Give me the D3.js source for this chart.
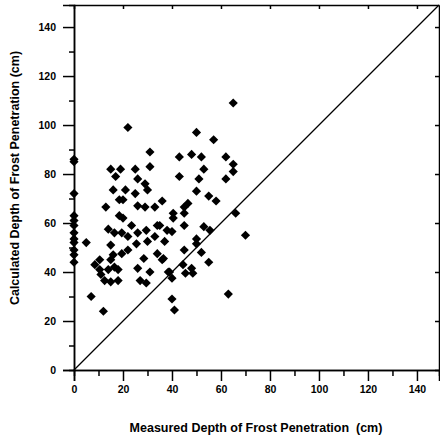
<!DOCTYPE html>
<html>
<head>
  <title>Measured vs Calculated Frost Penetration</title>
  <script src="https://d3js.org/d3.v7.min.js"></script>
  <style>
    body {
      margin: 0;
      background: #fff;
      font-family: Arial, "Liberation Sans", sans-serif;
    }
    .axis path, .axis line {
      stroke: #000;
      stroke-width: 1.5;
    }
    .axis text {
      font-size: 10.5px;
      font-weight: bold;
      fill: #000;
    }
  </style>
</head>
<body>

<div id="chart"></div>

<script>
  // measured depth (cm) and calculated depth (cm), one entry per sample
  const measured = [
    0, 0, 0, 0, 0, 0, 0, 0, 0, 0, 0, 0,
    22, 31, 15, 19, 25, 31, 17, 26, 29, 16, 21, 30, 25, 18.5, 20, 36, 26, 13, 29, 33,
    18.5, 20, 23.5, 34, 14, 16.5, 19.5, 26, 29.5, 33, 22, 30, 5, 15, 25.5, 37, 22, 19.5,
    16, 28.5, 34, 15, 10.5, 8.5, 10.5, 11, 12.5, 14, 16.5, 18, 15, 18, 26, 31, 27, 29.5,
    38.5, 7, 12,
    65, 50, 57, 43, 48, 52, 62, 65, 65, 53, 43, 51, 62, 50, 55, 58, 46.5, 45,
    45, 40.5, 40.5, 45, 38, 40, 35, 53, 55.5, 66, 70, 50, 50, 52, 45, 36, 36.5, 55,
    39, 40, 44.5, 45.5, 48, 48.5, 40, 41, 63
  ];
  const calculated = [
    86, 85, 72, 63, 61, 59, 56, 53.5, 52, 49, 47, 44,
    99, 89, 82, 82, 82, 83, 79, 78, 76, 73.5, 73.5, 73.5, 72, 69.5, 69.5, 69, 67, 66.5, 66.5, 66.5,
    63, 62, 59, 59, 57.5, 56, 56, 56, 57, 54.5, 54.5, 52.5, 52, 51, 51.5, 52.5, 49, 47.5,
    47, 45.5, 47.5, 45, 45, 43, 41, 39, 36.5, 41, 42, 41, 36, 36.5, 41.5, 40, 36.5, 35.5,
    40, 30, 24,
    109, 97, 94, 87, 88, 87, 87, 84, 81, 82, 79, 78, 78, 73, 71, 69, 68, 66.5,
    64, 64, 62, 59, 57, 56.5, 59, 58.5, 57, 64, 55, 53.5, 51.5, 48, 49, 45, 45.5, 44,
    40, 37.5, 43, 39.5, 41.5, 39.5, 29, 24.5, 31
  ];
  const majorTicks = [0, 20, 40, 60, 80, 100, 120, 140];
  const minorTicks = [10, 30, 50, 70, 90, 110, 130];

  const width = 440;
  const height = 439;
  const margin = { top: 5, right: 1, bottom: 69, left: 74 };

  const points = measured.map((m, i) => ({ x: m, y: calculated[i] }));

  const svg = d3.select("#chart")
    .append("svg")
    .attr("width", width)
    .attr("height", height);

  const x = d3.scaleLinear()
    .domain([0, 149])
    .range([margin.left, width - margin.right]);

  const y = d3.scaleLinear()
    .domain([0, 149])
    .range([height - margin.bottom, margin.top]);

  // bottom axis: major labelled ticks and minor ticks, both pointing out
  svg.append("g")
    .attr("class", "axis")
    .attr("transform", `translate(0,${y(0)})`)
    .call(d3.axisBottom(x).tickValues(majorTicks).tickSize(11).tickPadding(5).tickFormat(d3.format("d")));
  svg.append("g")
    .attr("class", "axis")
    .attr("transform", `translate(0,${y(0)})`)
    .call(d3.axisBottom(x).tickValues(minorTicks).tickSize(6).tickFormat(""));

  // left axis
  svg.append("g")
    .attr("class", "axis")
    .attr("transform", `translate(${x(0)},0)`)
    .call(d3.axisLeft(y).tickValues(majorTicks).tickSize(11).tickPadding(7).tickFormat(d3.format("d")));
  svg.append("g")
    .attr("class", "axis")
    .attr("transform", `translate(${x(0)},0)`)
    .call(d3.axisLeft(y).tickValues(minorTicks).tickSize(5).tickFormat(""));

  // top and right frame with short inward ticks
  svg.append("g")
    .attr("class", "axis")
    .attr("transform", `translate(0,${y(149)})`)
    .call(d3.axisTop(x).tickValues(majorTicks).tickSize(-4).tickSizeOuter(0).tickFormat(""));
  svg.append("g")
    .attr("class", "axis")
    .attr("transform", `translate(${x(149)},0)`)
    .call(d3.axisRight(y).tickValues(majorTicks).tickSize(-4).tickSizeOuter(0).tickFormat(""));

  // 1:1 line
  svg.append("line")
    .attr("x1", x(0))
    .attr("y1", y(0))
    .attr("x2", x(149))
    .attr("y2", y(149))
    .attr("stroke", "#000")
    .attr("stroke-width", 1.3);

  // diamond markers
  const diamond = d3.symbol().type(d3.symbolSquare).size(42);
  svg.selectAll(".pt")
    .data(points)
    .enter()
    .append("path")
    .attr("class", "pt")
    .attr("d", diamond)
    .attr("transform", d => `translate(${x(d.x)},${y(d.y)}) rotate(45)`)
    .attr("fill", "#000");

  svg.append("text")
    .attr("x", 256)
    .attr("y", 432)
    .attr("text-anchor", "middle")
    .style("font-size", "12.5px")
    .style("font-weight", "bold")
    .text("Measured Depth of Frost Penetration\u00a0 (cm)");

  svg.append("text")
    .attr("text-anchor", "middle")
    .attr("transform", `translate(19,178) rotate(-90)`)
    .style("font-size", "12.5px")
    .style("font-weight", "bold")
    .text("Calculated Depth of Frost Penetration (cm)");
</script>

</body>
</html>
